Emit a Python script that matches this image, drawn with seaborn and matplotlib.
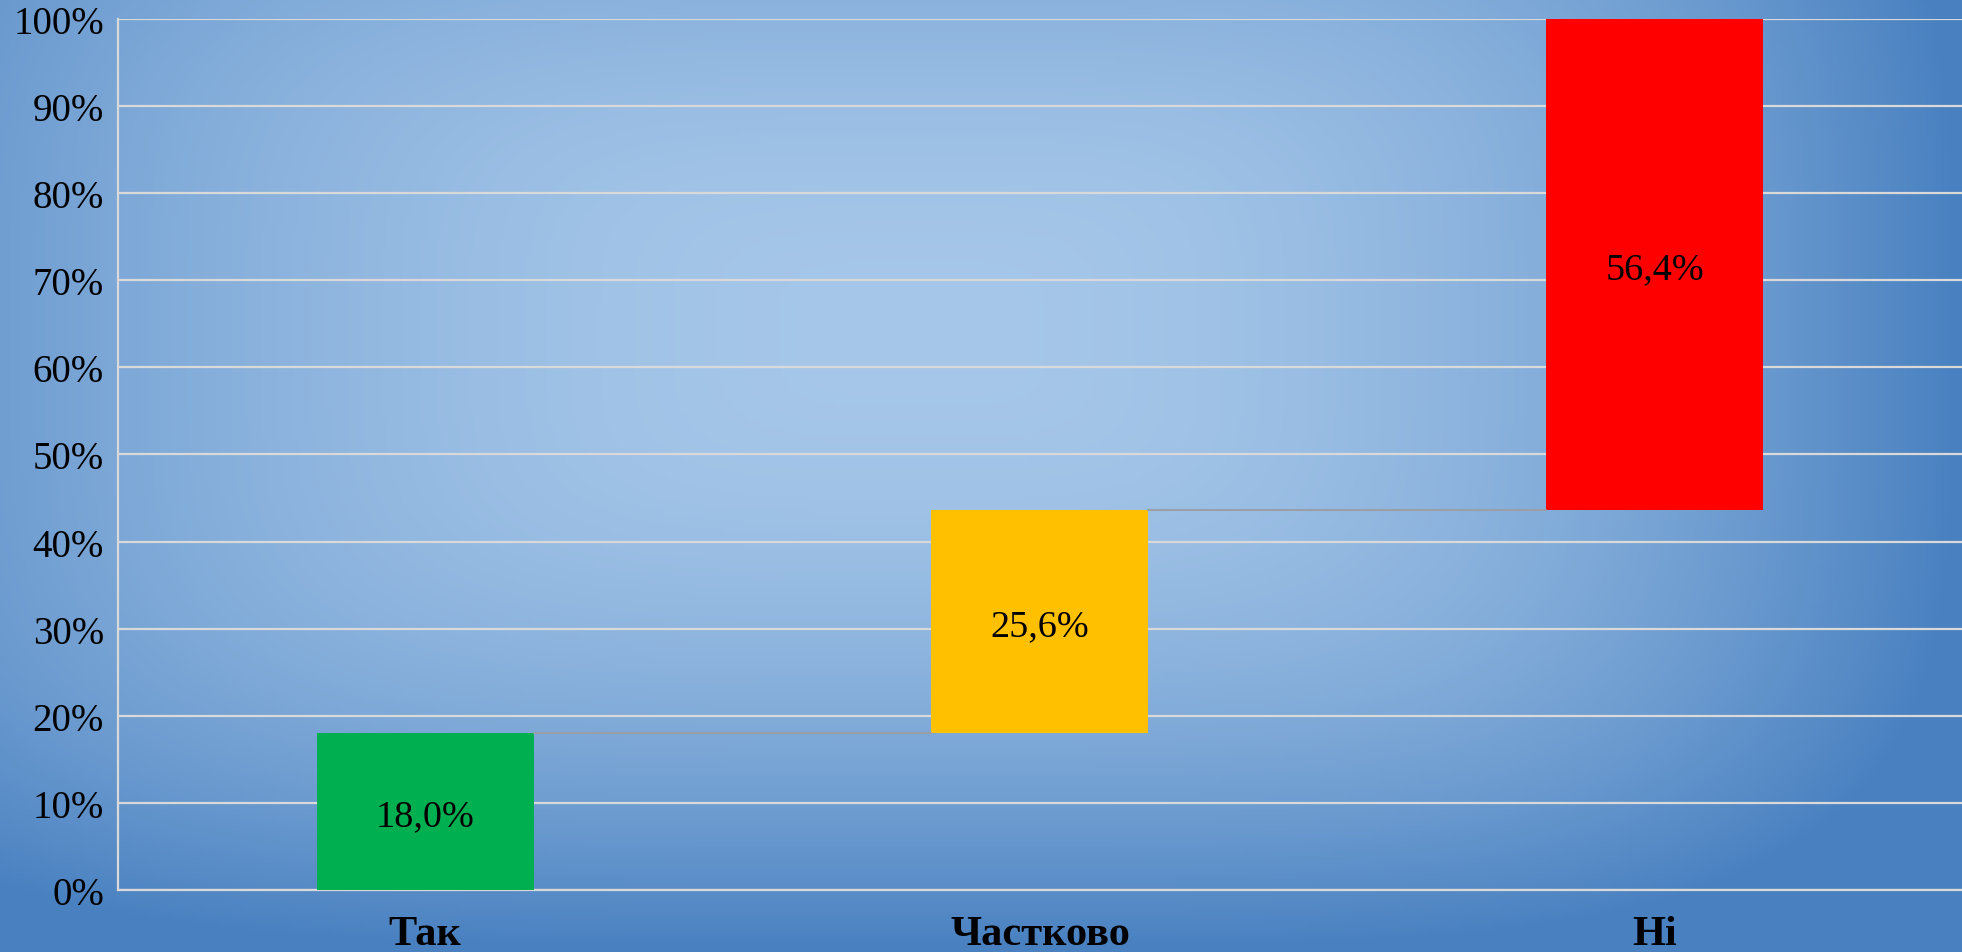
import numpy as np
import pandas as pd
import matplotlib
matplotlib.use('Agg')
import matplotlib.pyplot as plt
import seaborn as sns

# Дані
categories = ['Так', 'Частково', 'Ні']
shares = [18.0, 25.6, 56.4]
bar_colors = ['#00b050', '#ffc000', '#ff0000']
ytick_values = list(range(0, 101, 10))

bases = np.concatenate([[0.0], np.cumsum(shares)[:-1]])
tops = np.cumsum(shares)

sns.set_style('white')
plt.rcParams['font.family'] = ['Liberation Serif', 'DejaVu Serif']

BAR_WIDTH = 0.353
GRID_COLOR = '#d9d9d9'

fig = plt.figure(figsize=(19.62, 9.53), dpi=100)

# Фон: градієнт на всю фігуру
bg = fig.add_axes([0, 0, 1, 1], zorder=0)
h, w = 300, 600
yy, xx = np.mgrid[0:1:h * 1j, 0:1:w * 1j]
cx = 0.47
tx = np.where(xx < cx, ((xx - cx) / 0.62) ** 2, ((xx - cx) / 0.53) ** 2)
ty = ((yy - 0.35) / 0.65) ** 2
t = np.clip(np.sqrt(tx ** 2 + ty ** 2), 0, 1)[..., None]
c_in = np.array([166, 199, 233]) / 255
c_out = np.array([72, 128, 192]) / 255
img = c_in * (1 - t) + c_out * t
bg.imshow(img, aspect='auto', extent=[0, 1, 0, 1], origin='upper')
bg.axis('off')

# Основна діаграма (waterfall)
ax = fig.add_axes([0.0601, 0.0651, 0.9399, 0.9139], zorder=1)
ax.set_facecolor('none')
ax.set_axisbelow(True)

df = pd.DataFrame({'cat': categories, 'share': shares, 'base': bases})
sns.barplot(data=df, x='cat', y='share', bottom=df['base'].values,
            width=BAR_WIDTH, color='gray', saturation=1, errorbar=None,
            ax=ax, zorder=3)
for patch, c in zip(ax.patches, bar_colors):
    patch.set_facecolor(c)
    patch.set_edgecolor('none')

# Сполучні лінії
half = BAR_WIDTH / 2
for i in range(len(categories) - 1):
    ax.plot([i + half, i + 1 - half], [tops[i], tops[i]],
            color='#9a9ea6', lw=1.5, zorder=4)

# Підписи значень
for i, (b, s) in enumerate(zip(bases, shares)):
    label = f'{s:.1f}'.replace('.', ',') + '%'
    ax.text(i, b + s / 2, label, ha='center', va='center_baseline',
            fontsize=27.5, color='black', zorder=5)

ax.set_xlim(-0.5, len(categories) - 0.5)
ax.set_ylim(0, 100)
ax.set_yticks(ytick_values)
ax.set_yticklabels([f'{v}%' for v in ytick_values])
ax.set_xlabel('')
ax.set_ylabel('')

ax.grid(axis='y', color=GRID_COLOR, lw=1.6)
ax.grid(axis='x', visible=False)
for side in ['top', 'right']:
    ax.spines[side].set_visible(False)
for side in ['left', 'bottom']:
    ax.spines[side].set_color(GRID_COLOR)
    ax.spines[side].set_linewidth(1.6)

ax.tick_params(axis='y', length=0, pad=10, labelsize=28, labelcolor='black')
ax.tick_params(axis='x', length=0, pad=18, labelsize=30.5, labelcolor='black')
for lbl in ax.get_xticklabels():
    lbl.set_fontweight('bold')

fig.savefig('out.png', dpi=100)
